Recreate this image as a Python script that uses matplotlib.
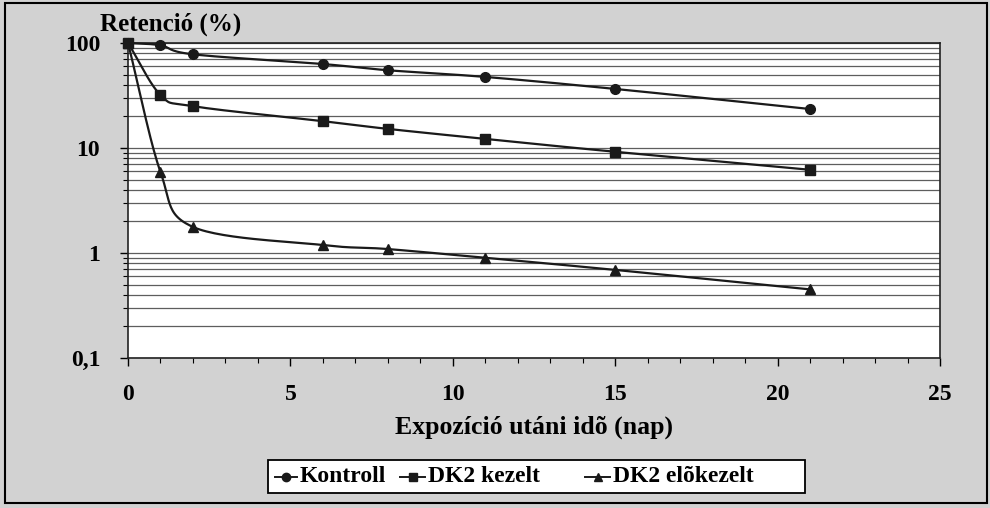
import numpy as np
import matplotlib.pyplot as plt
from matplotlib.ticker import FixedLocator, MultipleLocator, NullFormatter
from matplotlib.lines import Line2D

# Data
days = [0, 1, 2, 6, 8, 11, 15, 21]
kontroll = [100, 95, 78, 63, 55, 47.5, 36.5, 23.5]
dk2_kezelt = [100, 32, 25, 18, 15.2, 12.2, 9.2, 6.2]
dk2_elokezelt = [100, 5.9, 1.77, 1.19, 1.09, 0.9, 0.69, 0.45]

series_names = ['Kontroll', 'DK2 kezelt', 'DK2 elõkezelt']
y_ticks = [0.1, 1, 10, 100]
y_tick_labels = ['0,1', '1', '10', '100']
x_ticks = [0, 5, 10, 15, 20, 25]

plt.rcParams['font.family'] = ['Liberation Serif', 'DejaVu Serif']
plt.rcParams['font.weight'] = 'bold'


def smooth(x, y, n=30):
    # Catmull-Rom style smoothing in log space, like Excel's smoothed line
    x = np.asarray(x, float)
    ly = np.log10(np.asarray(y, float))
    px = np.concatenate([[2 * x[0] - x[1]], x, [2 * x[-1] - x[-2]]])
    py = np.concatenate([[2 * ly[0] - ly[1]], ly, [2 * ly[-1] - ly[-2]]])
    xs, ys = [], []
    for i in range(1, len(px) - 2):
        t = np.linspace(0, 1, n)
        p0, p1, p2, p3 = [np.array([px[j], py[j]]) for j in range(i - 1, i + 3)]
        b1 = p1 + (p2 - p0) / 6
        b2 = p2 - (p3 - p1) / 6
        pts = ((1 - t)[:, None] ** 3 * p1 + 3 * ((1 - t) ** 2 * t)[:, None] * b1
               + 3 * ((1 - t) * t ** 2)[:, None] * b2 + (t ** 3)[:, None] * p2)
        xs.append(pts[:, 0])
        ys.append(pts[:, 1])
    return np.concatenate(xs), 10 ** np.concatenate(ys)


W, H = 990, 508
fig = plt.figure(figsize=(9.9, 5.08), dpi=100, facecolor='#d2d2d2')
fig.patches.append(plt.Rectangle((0.005, 0.01), 0.992, 0.984, transform=fig.transFigure,
                                 fill=False, edgecolor='black', linewidth=1.5))
ax = fig.add_axes([0.1293, 0.2953, 0.8202, 0.6201])
ax.set_facecolor('white')

ax.set_yscale('log')
ax.set_ylim(0.1, 100)
ax.set_xlim(0, 25)

minor_y = [m * 10.0 ** e for e in (-1, 0, 1) for m in range(2, 10)]
ax.yaxis.set_major_locator(FixedLocator(y_ticks))
ax.set_yticklabels(y_tick_labels)
ax.yaxis.set_minor_locator(FixedLocator(minor_y))
ax.yaxis.set_minor_formatter(NullFormatter())
ax.xaxis.set_major_locator(FixedLocator(x_ticks))
ax.xaxis.set_minor_locator(MultipleLocator(1))

ax.grid(True, which='both', axis='y', color='#5e5e5e', linewidth=0.9)
ax.set_axisbelow(True)

ax.tick_params(which='major', direction='out', length=6, width=1, labelsize=17)
ax.tick_params(axis='y', which='major', pad=14)
ax.tick_params(axis='x', which='major', pad=13)
ax.tick_params(which='minor', direction='out', length=3.5, width=0.8)
for lab in ax.get_xticklabels() + ax.get_yticklabels():
    lab.set_fontweight('bold')

for s in ax.spines.values():
    s.set_linewidth(1.2)
    s.set_color('#222222')

markers = ['o', 's', '^']
for vals, mk in zip([kontroll, dk2_kezelt, dk2_elokezelt], markers):
    sx, sy = smooth(days, vals)
    ax.plot(sx, sy, color='#1a1a1a', linewidth=1.6, clip_on=False, zorder=3)
    ax.plot(days, vals, linestyle='none', marker=mk, color='#1a1a1a',
            markersize=7.5 if mk == '^' else 7, clip_on=False, zorder=4)

fig.text(0.101, 0.952, 'Retenció (%)', fontsize=18, fontweight='bold', ha='left', va='center')
ax.set_xlabel('Expozíció utáni idõ (nap)', fontsize=18.5, fontweight='bold', labelpad=7)

# legend box, laid out like the original (equal-width entries)
fig.patches.append(plt.Rectangle((268 / W, 1 - 493 / H), 537 / W, 33 / H,
                                 transform=fig.transFigure, facecolor='white',
                                 edgecolor='black', linewidth=1.3, zorder=5))
leg_y = 1 - 477 / H
handle_x = [(275, 297), (400, 425), (585, 610)]
for (x0, x1), mk, name in zip(handle_x, markers, series_names):
    fig.add_artist(Line2D([x0 / W, x1 / W], [leg_y, leg_y], color='#1a1a1a', linewidth=1.4,
                          transform=fig.transFigure, zorder=6))
    fig.add_artist(Line2D([(x0 + x1) / 2 / W], [leg_y], marker=mk, markersize=6,
                          color='#1a1a1a', transform=fig.transFigure, zorder=6))
    fig.text((x1 + 3) / W, leg_y, name, fontsize=17, fontweight='bold', ha='left',
             va='center', zorder=6)

fig.savefig('out.png', dpi=100, facecolor=fig.get_facecolor())
